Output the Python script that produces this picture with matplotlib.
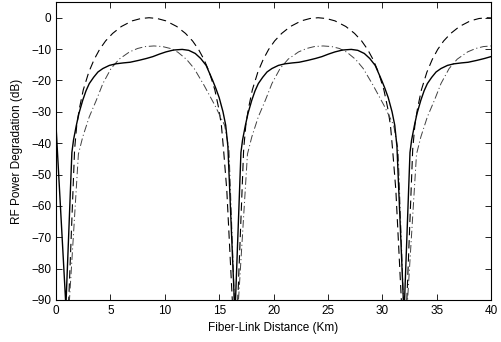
import numpy as np
import matplotlib
matplotlib.use("Agg")
import matplotlib.pyplot as plt

plt.rcParams['font.family'] = ['Liberation Sans', 'DejaVu Sans']
plt.rcParams['lines.scale_dashes'] = False

# solid curve
sol_x = [0, 0.9, 1.45, 1.6, 1.85, 2.1, 2.45, 2.75, 3.05, 3.45, 3.85, 4.3, 4.9, 5.5, 6.2, 6.8,
         7.6, 8.3, 8.9, 9.5, 10.1, 10.8, 11.6, 12.2, 12.8, 13.3, 13.8, 14.4, 14.7, 15.0, 15.35, 15.6, 15.8, 16.45,
         17.0, 17.15, 17.4, 17.65, 18.0, 18.3, 18.6, 19.0, 19.4, 19.85, 20.45, 21.05, 21.75, 22.35,
         23.15, 23.85, 24.45, 25.05, 25.65, 26.35, 27.15, 27.75, 28.35, 28.85, 29.35, 29.95, 30.25, 30.55, 30.9, 31.15, 31.35, 32.0,
         32.55, 32.7, 32.95, 33.2, 33.55, 33.85, 34.15, 34.55, 34.95, 35.4, 36.0, 36.6, 37.3, 37.9,
         38.7, 39.4, 40.0]
sol_y = [-35, -92, -43, -39, -34.5, -30.5, -26.3, -23.3, -21, -19, -17.3, -16.2, -15.2, -14.7, -14.4, -14.2,
         -13.6, -13.0, -12.4, -11.6, -10.9, -10.3, -10.1, -10.4, -11.4, -13, -15.2, -20, -22.6, -25.5, -30, -34.3, -41, -95,
         -43, -39, -34.5, -30.5, -26.3, -23.3, -21, -19, -17.3, -16.2, -15.2, -14.7, -14.4, -14.2,
         -13.6, -13.0, -12.4, -11.6, -10.9, -10.3, -10.1, -10.4, -11.4, -13, -15.2, -20, -22.6, -25.5, -30, -34.3, -41, -95,
         -43, -39, -34.5, -30.5, -26.3, -23.3, -21, -19, -17.3, -16.2, -15.2, -14.7, -14.4, -14.2,
         -13.6, -13.0, -12.4]

# dashed curve
dsh_x = [1.05, 1.7, 1.9, 2.15, 2.5, 3.0, 3.5, 4.0, 4.55, 5.2, 6.0, 7.0, 7.8, 8.55, 9.3, 10.1, 11.1, 11.9,
         12.55, 13.1, 13.6, 14.1, 14.6, 14.95, 15.2, 15.4, 15.7, 16.35,
         16.6, 17.25, 17.45, 17.7, 18.05, 18.55, 19.05, 19.55, 20.1, 20.75, 21.55, 22.55, 23.35, 24.1, 24.85,
         25.65, 26.65, 27.45, 28.1, 28.65, 29.15, 29.65, 30.15, 30.5, 30.75, 30.95, 31.25, 31.9,
         32.15, 32.8, 33.0, 33.25, 33.6, 34.1, 34.6, 35.1, 35.65, 36.3, 37.1, 38.1, 38.9, 39.65, 40.0]
dsh_y = [-100, -42, -34.2, -28.8, -23.0, -17.4, -13.3, -10.1, -7.4, -5.0, -2.8, -1.0, -0.25, 0, -0.25, -1.0, -2.8, -5.0,
         -7.4, -10.1, -13.3, -17.4, -23.0, -28.8, -34.2, -42, -55, -100,
         -100, -42, -34.2, -28.8, -23.0, -17.4, -13.3, -10.1, -7.4, -5.0, -2.8, -1.0, -0.25, 0, -0.25,
         -1.0, -2.8, -5.0, -7.4, -10.1, -13.3, -17.4, -23.0, -28.8, -34.2, -42, -55, -100,
         -100, -42, -34.2, -28.8, -23.0, -17.4, -13.3, -10.1, -7.4, -5.0, -2.8, -1.0, -0.25, 0, -0.05]

# dash-dot curve
dd_x = [1.05, 2.05, 2.45, 3.05, 3.7, 4.3, 5.05, 5.8, 6.75, 7.5, 8.2, 9.0, 9.8, 10.5, 11.2, 12.0,
        12.7, 13.6, 14.6, 15.5, 15.9, 16.5,
        16.6, 17.6, 18.0, 18.6, 19.25, 19.85, 20.6, 21.35, 22.3, 23.05, 23.75, 24.55, 25.35, 26.05, 26.75, 27.55,
        28.25, 29.15, 30.15, 31.05, 31.45, 32.05,
        32.15, 33.15, 33.55, 34.15, 34.8, 35.4, 36.15, 36.9, 37.85, 38.6, 39.3, 40.0]
dd_y = [-100, -43.5, -38, -31.6, -26.3, -21, -16.2, -13.2, -10.9, -9.8, -9.2, -9.0, -9.2, -9.8, -11.0, -13.3,
        -16.2, -21.5, -27.9, -34.3, -42, -100,
        -100, -43.5, -38, -31.6, -26.3, -21, -16.2, -13.2, -10.9, -9.8, -9.2, -9.0, -9.2, -9.8, -11.0, -13.3,
        -16.2, -21.5, -27.9, -34.3, -42, -100,
        -100, -43.5, -38, -31.6, -26.3, -21, -16.2, -13.2, -10.9, -9.8, -9.2, -9.0]

xticks = [0, 5, 10, 15, 20, 25, 30, 35, 40]
yticks = [-90, -80, -70, -60, -50, -40, -30, -20, -10, 0]

fig = plt.figure(figsize=(5.01, 3.42), dpi=100)
ax = fig.add_axes([0.112, 0.123, 0.868, 0.871])

ax.plot(dsh_x, dsh_y, color='k', lw=0.8, dashes=(6, 3.5))
ax.plot(dd_x, dd_y, color='0.25', lw=0.7, dashes=(5.5, 2, 0.8, 2))
ax.plot(sol_x, sol_y, color='k', lw=1.0)

ax.set_xlim(0, 40)
ax.set_ylim(-90, 5)
ax.set_xticks(xticks)
ax.set_yticks(yticks)
ax.tick_params(direction='in', top=True, right=True, length=4, width=0.6, labelsize=8.5, pad=3.5)
for s in ax.spines.values():
    s.set_linewidth(0.8)
ax.set_xlabel('Fiber-Link Distance (Km)', fontsize=8.5, labelpad=4)
ax.set_ylabel('RF Power Degradation (dB)', fontsize=8.5, labelpad=6)

fig.savefig('out.png', dpi=100)
